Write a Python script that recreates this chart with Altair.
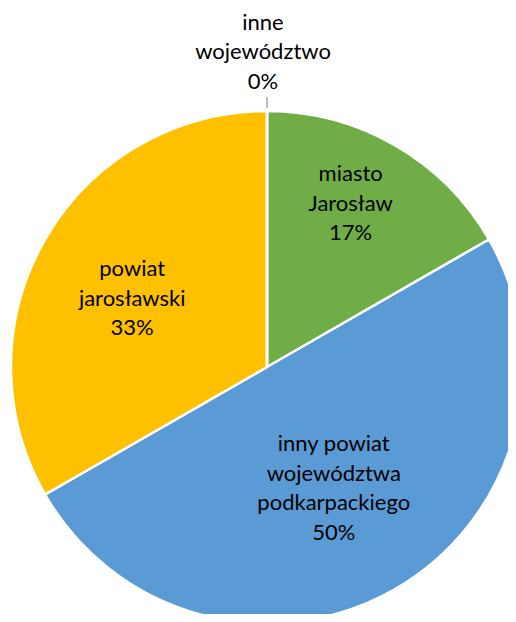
import altair as alt
import pandas as pd

names = ["miasto\nJarosław", "inny powiat\nwojewództwa\npodkarpackiego", "powiat\njarosławski", "inne\nwojewództwo"]
values = [16.7, 50.0, 33.3, 0.0]
colors = ["#70AD47", "#5B9BD5", "#FFC000", "#A5A5A5"]
label_radius = [183, 138, 150, 317]
label_nudge = [(-8, -5), (-2, 2), (-5, 7), (-4, 2)]

df = pd.DataFrame({"name": names, "value": values, "idx": list(range(len(names)))})

CX, CY, R = 259, 359, 256
FONT = "Lato"
FS = 22
LH = 29.5

theta_scale = alt.Scale(domain=[0, 100])

base = alt.Chart(df).transform_window(
    cum="sum(value)", sort=[alt.SortField("idx")], frame=[None, 0]
).transform_calculate(
    start="datum.cum - datum.value",
    mid="datum.cum - datum.value / 2",
    label="datum.name + '\\n' + format(datum.value / 100, '.0%')",
)

arcs = base.mark_arc(radius=R, stroke="white", strokeWidth=2.5).encode(
    theta=alt.Theta("start:Q", scale=theta_scale),
    theta2="cum:Q",
    color=alt.Color("name:N", scale=alt.Scale(domain=names, range=colors), legend=None),
    x=alt.value(CX),
    y=alt.value(CY),
)

leader = base.transform_filter(alt.datum.idx == 3).mark_arc(
    radius=R + 14, radius2=R + 3, stroke="#A6A6A6", strokeWidth=1.5, fillOpacity=0
).encode(
    theta=alt.Theta("start:Q", scale=theta_scale),
    theta2="cum:Q",
    x=alt.value(CX),
    y=alt.value(CY),
)

layers = [arcs, leader]
for i, r in enumerate(label_radius):
    n_lines = names[i].count("\n") + 2
    ndx, ndy = label_nudge[i]
    layers.append(
        base.transform_filter(alt.datum.idx == i).mark_text(
            radius=r, font=FONT, fontSize=FS, lineBreak="\n", lineHeight=LH,
            color="#000000", align="center", baseline="middle",
            dx=ndx, dy=-(n_lines - 1) / 2 * LH + ndy,
        ).encode(
            theta=alt.Theta("mid:Q", scale=theta_scale),
            text="label:N",
            x=alt.value(CX),
            y=alt.value(CY),
        )
    )

chart = alt.layer(*layers).properties(
    width=500, height=606, autosize=alt.AutoSizeParams(type="none"), padding=0
).configure_view(stroke=None)

chart.save("out.html", embed_options={"renderer": "svg", "actions": False})
